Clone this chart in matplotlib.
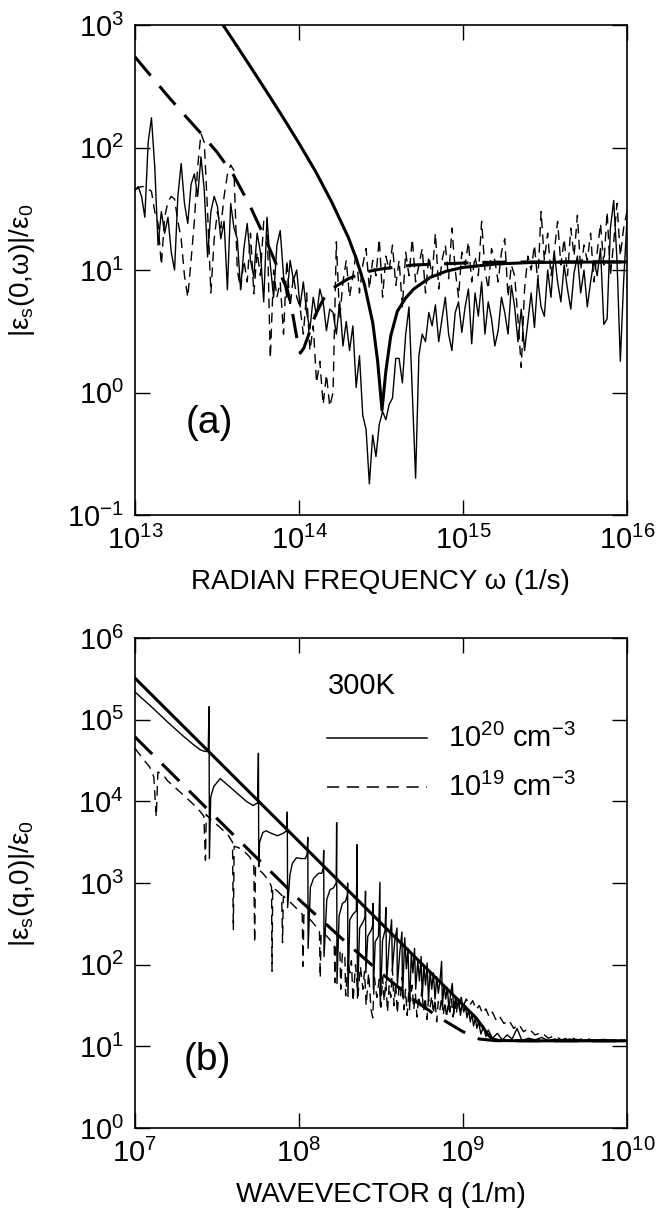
import matplotlib
matplotlib.use('Agg')
import matplotlib.pyplot as plt
import numpy as np

plt.rcParams['font.family'] = ['Liberation Sans', 'DejaVu Sans']
plt.rcParams['mathtext.fontset'] = 'custom'
plt.rcParams['mathtext.rm'] = 'Liberation Sans'
plt.rcParams['mathtext.it'] = 'Liberation Sans:italic'
plt.rcParams['mathtext.default'] = 'regular'

# ---------------- panel (a): |eps_s(0,w)|/eps_0 vs radian frequency ----------------
# model curves (thick)
w_model20 = [2.51e13, 3.16e13, 3.98e13, 5.01e13, 6.31e13, 7.94e13, 1.0e14, 1.26e14, 1.58e14,
             2.0e14, 2.24e14, 2.51e14, 2.82e14, 3.02e14, 3.21e14, 3.39e14, 3.63e14, 3.98e14,
             4.47e14, 5.01e14, 6.31e14, 7.94e14, 1.0e15, 1.58e15, 2.51e15, 3.98e15, 1.0e16]
eps_model20 = [1895, 1191, 748, 467, 290, 179, 108.6, 64.2, 36.2,
               18.5, 12.3, 7.6, 3.7, 1.8, 0.72, 1.5, 2.9, 4.6,
               5.9, 7.0, 8.7, 9.8, 10.5, 11.2, 11.5, 11.6, 11.65]

w_model19 = [1.0e13, 1.26e13, 1.58e13, 2.0e13, 2.51e13, 3.16e13, 3.98e13, 5.0e13, 6.3e13,
             7.1e13, 7.9e13, 8.5e13, 9.1e13, 9.8e13, 1.02e14, 1.07e14, 1.15e14, 1.26e14,
             1.41e14, 1.58e14, 2.0e14, 2.51e14, 3.16e14, 5.0e14, 1.0e15, 1.6e15, 3.0e15, 1.0e16]
eps_model19 = [550, 380, 265, 185, 132, 92, 60, 34, 17.5,
               12, 8.6, 6.9, 4.6, 2.6, 2.1, 2.3, 3.0, 4.3,
               5.8, 7.0, 8.5, 9.6, 10.2, 11.0, 11.4, 11.6, 11.65, 11.65]

# simulation curves (thin), 150 log-spaced frequencies from 1e13 to 1e16
w_sim = np.logspace(13, 16, 150)
eps_sim20 = [45, 48, 40, 27, 110, 175, 70, 16, 30, 20,
             27, 14, 10, 40, 74, 35, 24, 50, 61, 40,
             84, 45, 12.8, 30, 40, 33, 18, 25, 6.9, 35,
             22, 18, 6.9, 15, 24, 12, 8.8, 20, 14, 5.5,
             27, 11, 6, 16, 21, 9, 6, 12, 8.3, 10,
             5, 8, 4.5, 3.3, 6, 4.2, 7, 5.5, 3.2, 4.8,
             4.5, 3, 5.5, 2.4, 3.8, 2.2, 3.5, 1.1, 2.0, 0.65,
             0.5, 0.18, 0.45, 0.3, 0.55, 0.7, 0.6, 0.8, 0.9, 1.9,
             1.9, 1.2, 3.0, 5.0, 1.0, 0.2, 2.0, 3.0, 2.6, 4.5,
             3.5, 5.2, 2.6, 4.0, 6.0, 3.0, 2.2, 4.5, 5.5, 3.1,
             5.0, 7.0, 2.5, 6.5, 4.2, 8.0, 3.0, 5.5, 4.0, 2.4,
             3.2, 6.0, 4.5, 3.0, 7.5, 5.0, 2.6, 4.8, 2.2, 3.8,
             6.5, 3.4, 8.5, 5.0, 4.2, 10, 6.0, 14, 8.0, 5.5,
             11, 7.0, 4.8, 9.5, 13, 6.5, 10, 5.0, 8.0, 12,
             9, 15, 3.6, 4.0, 22, 37, 12, 1.8, 8, 25]
eps_sim19 = [45, 47, 48, 48, 46, 44, 30, 24, 11, 27,
             36, 40, 38, 25, 18, 9, 6, 12, 25, 70,
             130, 110, 30, 6.5, 18, 30, 22, 40, 60, 72,
             65, 10, 7, 12, 8, 20, 6.4, 14, 9, 25,
             27, 1.9, 10, 6, 8, 3, 12, 5, 9, 6,
             5, 3, 6.5, 2.2, 3.5, 1.2, 1.8, 0.8, 1.4, 0.77,
             1.0, 17, 4, 8, 12, 6, 9, 14, 6.5, 11,
             15, 7, 12, 9, 18, 6, 13, 10, 16, 7.5,
             12, 5, 14, 9, 18, 8, 11, 15, 6.5, 13,
             9, 20, 7, 12, 16, 8.5, 22, 10, 6, 14,
             11, 17, 8, 13, 9, 25, 10, 7, 15, 12,
             8, 14, 18, 6, 11, 9, 4, 1.6, 7, 13,
             10, 16, 8, 30, 12, 20, 9, 14, 25, 11,
             18, 9, 22, 13, 28, 10, 16, 12, 20, 8,
             14, 24, 11, 30, 9, 17, 35, 13, 22, 30]

# ---------------- panel (b): |eps_s(q,0)|/eps_0 vs wavevector (log10 values) ----------------
logq_model20 = [7.0, 8.0, 9.0, 9.08, 9.12, 9.15, 9.18, 9.22, 9.4, 10.0]
logeps_model20 = [5.51, 3.51, 1.51, 1.35, 1.24, 1.15, 1.09, 1.072, 1.068, 1.068]

logq_model19 = [7.0, 7.5, 8.0, 8.3, 8.5, 8.7, 8.85, 9.0, 9.1, 9.2, 10.0]
logeps_model19 = [4.79, 3.79, 2.80, 2.25, 1.90, 1.57, 1.36, 1.18, 1.09, 1.07, 1.068]

logq_sim20 = [7.00, 7.10, 7.20, 7.30, 7.36, 7.40, 7.43, 7.447, 7.452, 7.454, 7.462, 7.48, 7.52,
              7.60, 7.68, 7.72, 7.748,
              7.753, 7.755, 7.76, 7.78, 7.80, 7.83, 7.87, 7.905, 7.925,
              7.929, 7.931, 7.945, 7.96, 7.985, 8.015, 8.04, 8.05,
              8.054, 8.056, 8.07, 8.09, 8.12, 8.14, 8.148,
              8.151, 8.153, 8.17, 8.19, 8.21, 8.227,
              8.230, 8.232, 8.245, 8.265, 8.285, 8.295,
              8.297, 8.299, 8.31, 8.33, 8.35,
              8.355, 8.357, 8.37, 8.39, 8.403,
              8.406, 8.408, 8.42, 8.44, 8.45,
              8.452, 8.454, 8.465, 8.485,
              8.494, 8.496,
              8.51, 8.525, 8.53, 8.535, 8.55, 8.565, 8.57, 8.585, 8.598, 8.60,
              8.615, 8.628, 8.632, 8.645, 8.655, 8.665, 8.675, 8.685, 8.695, 8.705,
              8.712, 8.725, 8.735, 8.745, 8.752, 8.762, 8.772, 8.782, 8.79, 8.80,
              8.81, 8.82, 8.83, 8.84, 8.85, 8.86, 8.87, 8.875, 8.885, 8.895,
              8.905, 8.915, 8.925, 8.935, 8.945, 8.955, 8.965, 8.975, 8.985, 8.995,
              9.005, 9.015, 9.025, 9.035, 9.045, 9.055, 9.065, 9.075, 9.085, 9.095,
              9.11, 9.125, 9.14, 9.155,
              9.18, 9.21, 9.24, 9.27, 9.30, 9.33, 9.36, 9.40, 9.44, 9.48,
              9.52, 9.56, 9.60, 9.65, 9.70, 9.75, 9.80, 9.85, 9.90, 10.0]
logeps_sim20 = [5.34, 5.16, 4.97, 4.79, 4.69, 4.63, 4.61, 4.63, 5.16, 3.30, 4.05, 4.18, 4.28,
                4.14, 4.00, 3.95, 3.98,
                4.59, 3.20, 3.50, 3.62, 3.64, 3.61, 3.58, 3.61, 3.64,
                3.87, 2.70, 3.10, 3.24, 3.31, 3.30, 3.30, 3.36,
                3.56, 2.20, 2.95, 3.06, 3.12, 3.12, 3.18,
                3.40, 2.10, 2.80, 2.92, 2.94, 3.00,
                3.74, 1.77, 2.60, 2.75, 2.78, 2.85,
                3.00, 1.61, 2.55, 2.62, 2.66,
                3.47, 1.59, 2.45, 2.52, 2.58,
                2.90, 1.90, 2.35, 2.42, 2.48,
                2.75, 1.70, 2.28, 2.35,
                3.01, 1.50,
                2.30, 2.42, 2.70, 1.80, 2.25, 2.55, 1.95, 2.30, 2.45, 1.75,
                2.15, 2.40, 1.60, 2.33, 1.95, 2.20, 1.45, 2.15, 1.90, 2.20,
                1.70, 2.05, 1.80, 2.10, 1.60, 1.98, 1.75, 2.02, 1.55, 1.92,
                1.70, 1.90, 1.58, 1.85, 1.65, 1.80, 2.04, 1.50, 1.75, 1.58,
                1.72, 1.45, 1.65, 1.77, 1.40, 1.60, 1.48, 1.58, 1.38, 1.52,
                1.42, 1.50, 1.35, 1.45, 1.30, 1.40, 1.25, 1.35, 1.22, 1.30,
                1.15, 1.25, 1.12, 1.20,
                1.10, 1.16, 1.08, 1.14, 1.09, 1.22, 1.07, 1.10, 1.08, 1.11,
                1.07, 1.09, 1.07, 1.09, 1.07, 1.08, 1.07, 1.085, 1.07, 1.075]

logq_sim19 = [7.00, 7.05, 7.09, 7.115, 7.13, 7.14, 7.17, 7.20, 7.30, 7.38, 7.42, 7.43, 7.435,
              7.46, 7.52, 7.57, 7.595, 7.60, 7.605, 7.65, 7.70, 7.725, 7.73, 7.735,
              7.78, 7.82, 7.833, 7.836, 7.84, 7.87, 7.895, 7.90, 7.905, 7.94, 7.98,
              8.02, 8.025, 8.03, 8.07, 8.10, 8.125, 8.13, 8.135, 8.17, 8.20, 8.215,
              8.22, 8.225, 8.25, 8.255, 8.265, 8.28, 8.285, 8.30, 8.31, 8.32, 8.33,
              8.345, 8.36, 8.375, 8.39, 8.40, 8.41, 8.425, 8.44, 8.45, 8.46, 8.475,
              8.49, 8.50,
              8.51, 8.52, 8.53, 8.54, 8.55, 8.56, 8.57, 8.58, 8.59, 8.60,
              8.61, 8.62, 8.63, 8.64, 8.65, 8.66, 8.67, 8.68, 8.69, 8.70,
              8.71, 8.72, 8.73, 8.74, 8.75, 8.76, 8.77, 8.78, 8.79, 8.80,
              8.81, 8.82, 8.83, 8.84, 8.85, 8.86, 8.87, 8.88, 8.89, 8.90,
              8.91, 8.92, 8.93, 8.94, 8.95, 8.96, 8.97, 8.98, 8.99, 9.00,
              9.02, 9.04, 9.06, 9.08, 9.10, 9.12, 9.14, 9.16, 9.18, 9.20,
              9.22, 9.25, 9.28, 9.31, 9.34, 9.37, 9.40, 9.44, 9.48, 9.52,
              9.56, 9.60, 9.65, 9.70, 9.75, 9.80, 9.85, 9.90, 9.95, 10.0]
logeps_sim19 = [4.65, 4.52, 4.42, 4.30, 3.81, 4.36, 4.33, 4.25, 4.07, 3.92, 3.82, 3.28, 3.84,
                3.78, 3.68, 3.58, 3.50, 2.43, 3.45, 3.42, 3.32, 3.22, 2.27, 3.20,
                3.12, 3.02, 2.95, 1.92, 2.95, 2.90, 2.85, 2.27, 2.84, 2.78, 2.70,
                2.62, 1.98, 2.61, 2.55, 2.48, 2.42, 1.84, 2.40, 2.35, 2.28, 2.25,
                1.78, 2.22, 2.18, 1.70, 2.15, 2.12, 1.62, 2.06, 1.90, 2.05, 1.55,
                2.00, 1.62, 1.98, 1.70, 1.92, 1.50, 1.90, 1.45, 1.35, 1.85, 1.60,
                1.82, 1.48,
                1.85, 1.55, 1.80, 1.42, 1.75, 1.60, 1.95, 1.50, 1.78, 1.40,
                1.72, 1.62, 1.85, 1.45, 1.70, 1.38, 1.68, 1.55, 1.75, 1.45,
                1.65, 1.36, 1.62, 1.50, 1.70, 1.42, 1.60, 1.33, 1.58, 1.48,
                1.62, 1.40, 1.58, 1.30, 1.55, 1.45, 1.60, 1.38, 1.55, 1.35,
                1.52, 1.42, 1.58, 1.36, 1.55, 1.40, 1.57, 1.44, 1.60, 1.48,
                1.58, 1.50, 1.56, 1.45, 1.50, 1.40, 1.46, 1.36, 1.42, 1.33,
                1.38, 1.28, 1.32, 1.22, 1.27, 1.18, 1.22, 1.14, 1.17, 1.10,
                1.13, 1.08, 1.11, 1.08, 1.10, 1.07, 1.09, 1.07, 1.08, 1.07]

THICK = 2.2
THIN = 1.0

fig = plt.figure(figsize=(6.68, 12.11), dpi=100)
ax1 = fig.add_axes([0.202, 0.5747, 0.7365, 0.4046])
ax2 = fig.add_axes([0.202, 0.0685, 0.7365, 0.4046])

# panel (a)
ax1.plot(w_sim, eps_sim19, color='black', lw=THIN, dashes=(7, 4.5))
ax1.plot(w_sim, eps_sim20, color='black', lw=THIN)
ax1.plot(w_model19, eps_model19, color='black', lw=THICK, dashes=(8, 4.5))
ax1.plot(w_model20, eps_model20, color='black', lw=THICK)
ax1.set_xscale('log')
ax1.set_yscale('log')
ax1.set_xlim(1e13, 1e16)
ax1.set_ylim(1e-1, 1e3)
ax1.set_xticks([1e13, 1e14, 1e15, 1e16])
ax1.set_yticks([1e-1, 1e0, 1e1, 1e2, 1e3])
ax1.set_xlabel('RADIAN FREQUENCY ω (1/s)', fontsize=20)
ax1.set_ylabel('|ε$_{s}$(0,ω)|/ε$_0$', fontsize=20)
ax1.text(0.152, 0.188, '(a)', transform=ax1.transAxes, fontsize=28, ha='center', va='center')

# panel (b)
ax2.plot(10 ** np.array(logq_sim19), 10 ** np.array(logeps_sim19), color='black', lw=THIN, dashes=(7, 4.5))
ax2.plot(10 ** np.array(logq_sim20), 10 ** np.array(logeps_sim20), color='black', lw=THIN)
ax2.plot(10 ** np.array(logq_model19), 10 ** np.array(logeps_model19), color='black', lw=THICK, dashes=(8, 4.5))
ax2.plot(10 ** np.array(logq_model20), 10 ** np.array(logeps_model20), color='black', lw=THICK)
ax2.set_xscale('log')
ax2.set_yscale('log')
ax2.set_xlim(1e7, 1e10)
ax2.set_ylim(1e0, 1e6)
ax2.set_xticks([1e7, 1e8, 1e9, 1e10])
ax2.set_yticks([1e0, 1e1, 1e2, 1e3, 1e4, 1e5, 1e6])
ax2.set_xlabel('WAVEVECTOR q (1/m)', fontsize=20)
ax2.set_ylabel('|ε$_{s}$(q,0)|/ε$_0$', fontsize=20)
ax2.text(0.148, 0.139, '(b)', transform=ax2.transAxes, fontsize=28, ha='center', va='center')

# legend drawn by hand
ax2.text(0.392, 0.902, '300K', transform=ax2.transAxes, fontsize=21, ha='left', va='center')
ax2.plot([0.390, 0.593], [0.796, 0.796], transform=ax2.transAxes, color='black', lw=1.1)
ax2.plot([0.390, 0.593], [0.696, 0.696], transform=ax2.transAxes, color='black', lw=1.1, dashes=(8, 5))
ax2.text(0.636, 0.796, '10$^{20}$ cm$^{-3}$', transform=ax2.transAxes, fontsize=21, ha='left', va='center')
ax2.text(0.636, 0.696, '10$^{19}$ cm$^{-3}$', transform=ax2.transAxes, fontsize=21, ha='left', va='center')

for ax in (ax1, ax2):
    ax.minorticks_off()
    ax.tick_params(which='major', direction='in', length=11, width=1.0, top=True, right=True,
                   labelsize=21, pad=8)
    for sp in ax.spines.values():
        sp.set_linewidth(1.2)
    ax.xaxis.set_label_coords(0.5, -0.11)
    ax.yaxis.set_label_coords(-0.20, 0.5)

fig.savefig('out.png', dpi=100)
